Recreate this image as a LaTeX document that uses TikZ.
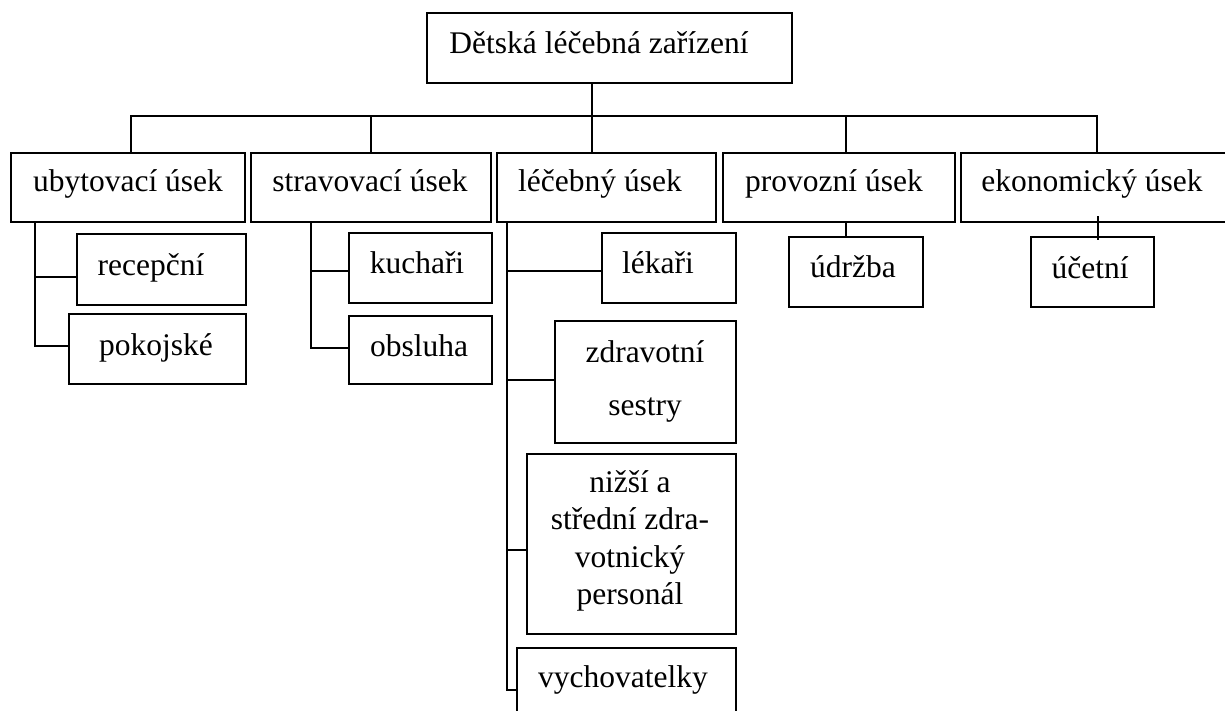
\documentclass[tikz,border=0pt]{standalone}
\usepackage{fontspec}
\setmainfont{Liberation Serif}
\begin{document}
\begin{tikzpicture}[x=1pt,y=-1pt,
  box/.style={draw, line width=1.2pt, inner sep=0pt, outer sep=0pt, anchor=north west},
  txt/.style={inner sep=0pt, anchor=base, font=\fontsize{31.5}{37.5}\selectfont},
  conn/.style={line width=1.2pt, line cap=rect}]
\useasboundingbox (0,0) rectangle (1225,711);
\clip (0,0) rectangle (1225,711);
% boxes
\node[box, minimum width=365pt, minimum height=70pt] (root) at (427,13) {};
\node[box, minimum width=234pt, minimum height=69pt] (ub) at (11,153) {};
\node[box, minimum width=240pt, minimum height=69pt] (st) at (251,153) {};
\node[box, minimum width=219pt, minimum height=69pt] (le) at (497,153) {};
\node[box, minimum width=232pt, minimum height=69pt] (pr) at (723,153) {};
\node[box, minimum width=272pt, minimum height=69pt] (ek) at (961,153) {};
\node[box, minimum width=169pt, minimum height=71pt] (rec) at (77,234) {};
\node[box, minimum width=177pt, minimum height=70pt] (pok) at (69,314) {};
\node[box, minimum width=143pt, minimum height=70pt] (kuch) at (349,233) {};
\node[box, minimum width=143pt, minimum height=68pt] (obs) at (349,316) {};
\node[box, minimum width=134pt, minimum height=70pt] (lek) at (602,233) {};
\node[box, minimum width=181pt, minimum height=122pt] (zdr) at (555,321) {};
\node[box, minimum width=209pt, minimum height=180pt] (niz) at (527,454) {};
\node[box, minimum width=219pt, minimum height=90pt] (vych) at (517,648) {};
\node[box, minimum width=134pt, minimum height=70pt] (udr) at (789,237) {};
\node[box, minimum width=123pt, minimum height=70pt] (uce) at (1031,237) {};
% texts
\node[txt] (troot) at (599,54) {Dětská léčebná zařízení};
\node[txt] (tub) at (128,192) {ubytovací úsek};
\node[txt] (tst) at (370,192) {stravovací úsek};
\node[txt] (tle) at (600,192) {léčebný úsek};
\node[txt] (tpr) at (834,192) {provozní úsek};
\node[txt] (tek) at (1092,192) {ekonomický úsek};
\node[txt] (trec) at (151,275) {recepční};
\node[txt] (tpok) at (156,355) {pokojské};
\node[txt] (tkuch) at (417,273) {kuchaři};
\node[txt] (tobs) at (419,356) {obsluha};
\node[txt] (tlek) at (658,273) {lékaři};
\node[txt] (tudr) at (853,277) {údržba};
\node[txt] (tuce) at (1090,278) {účetní};
\node[txt] (tzdr1) at (645,362) {zdravotní};
\node[txt] (tzdr2) at (645,415) {sestry};
\node[txt, anchor=north, align=center, text depth=0pt] (tniz) at (630,470) {nižší a\\střední zdra-\\votnický\\personál};
\node[txt] (tvych) at (623,687) {vychovatelky};
% bus
\coordinate (b1) at (131,116);
\coordinate (b2) at (371,116);
\coordinate (b3) at (592,116);
\coordinate (b4) at (846,116);
\coordinate (b5) at (1097,116);
\draw[conn] (b3 |- root.south) -- (b3);
\draw[conn] (b1) -- (b5);
\draw[conn] (b1) -- (b1 |- ub.north);
\draw[conn] (b2) -- (b2 |- st.north);
\draw[conn] (b3) -- (b3 |- le.north);
\draw[conn] (b4) -- (b4 |- pr.north);
\draw[conn] (b5) -- (b5 |- ek.north);
% ubytovaci children
\coordinate (u1) at (35,277);
\coordinate (u2) at (35,346);
\draw[conn] (u1 |- ub.south) -- (u2) -- (u2 -| pok.west);
\draw[conn] (u1) -- (u1 -| rec.west);
% stravovaci children
\coordinate (s1) at (311,271);
\coordinate (s2) at (311,348);
\draw[conn] (s1 |- st.south) -- (s2) -- (s2 -| obs.west);
\draw[conn] (s1) -- (s1 -| kuch.west);
% lecebny children
\coordinate (l0) at (507,224);
\coordinate (l1) at (507,271);
\coordinate (l2) at (507,380);
\coordinate (l3) at (507,550);
\coordinate (l4) at (507,690);
\draw[conn] (l0) -- (l4) -- (l4 -| vych.west);
\draw[conn] (l1) -- (l1 -| lek.west);
\draw[conn] (l2) -- (l2 -| zdr.west);
\draw[conn] (l3) -- (l3 -| niz.west);
% provozni, ekonomicky
\draw[conn] (b4 |- pr.south) -- (b4 |- udr.north);
\coordinate (e1) at (1098,217);
\draw[conn] (e1) -- ([yshift=-2pt]e1 |- uce.north);
\end{tikzpicture}
\end{document}
